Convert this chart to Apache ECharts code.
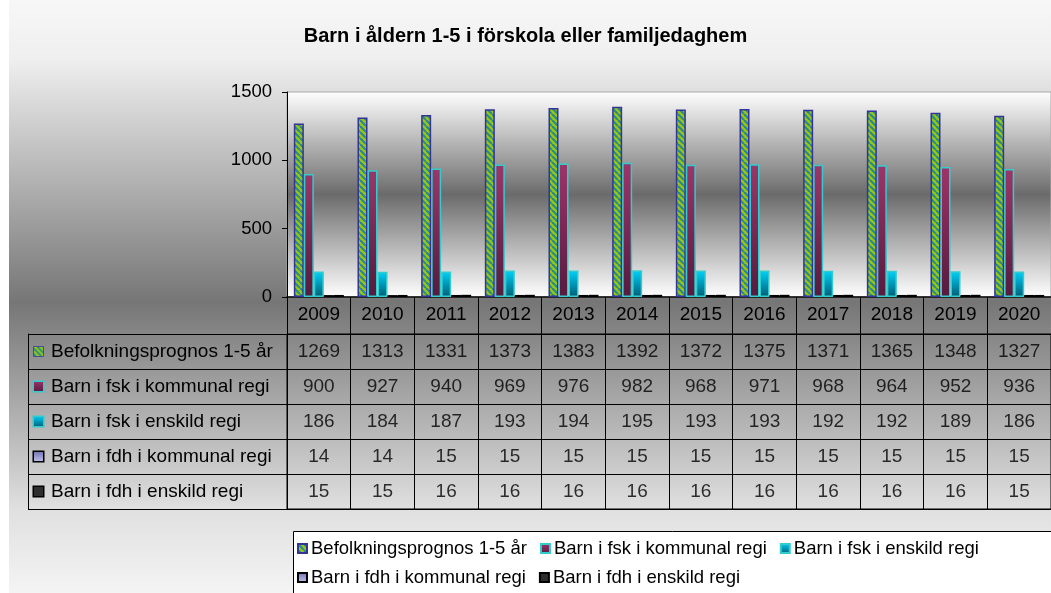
<!DOCTYPE html>
<html>
<head>
<meta charset="utf-8">
<script src="https://cdn.jsdelivr.net/npm/echarts@6/dist/echarts.min.js"></script>
<style>
  html, body { margin: 0; padding: 0; background: #fff; }
  #chart { width: 1051px; height: 593px; }
</style>
</head>
<body>
<div id="chart"></div>
<script>
// Data
var years = ['2009', '2010', '2011', '2012', '2013', '2014', '2015', '2016', '2017', '2018', '2019', '2020'];
var seriesNames = [
    'Befolkningsprognos 1-5 år',
    'Barn i fsk i kommunal regi',
    'Barn i fsk i enskild regi',
    'Barn i fdh i kommunal regi',
    'Barn i fdh i enskild regi'
];
var befolkning  = [1269, 1313, 1331, 1373, 1383, 1392, 1372, 1375, 1371, 1365, 1348, 1327];
var fskKommunal = [900, 927, 940, 969, 976, 982, 968, 971, 968, 964, 952, 936];
var fskEnskild  = [186, 184, 187, 193, 194, 195, 193, 193, 192, 192, 189, 186];
var fdhKommunal = [14, 14, 15, 15, 15, 15, 15, 15, 15, 15, 15, 15];
var fdhEnskild  = [15, 15, 16, 16, 16, 16, 16, 16, 16, 16, 16, 15];
var yMin = 0, yMax = 1500, yStep = 500;

var rows = [befolkning, fskKommunal, fskEnskild, fdhKommunal, fdhEnskild];

// Layout
var FONT = '"Liberation Sans", Arial, sans-serif';
var plotLeft = 287, plotTop = 92, plotWidth = 772, plotHeight = 205;
var yearRowH = 37;
var tableTop = plotTop + plotHeight + yearRowH, rowH = 35;
var headerWidth = 259;

// Striped fill (green / teal diagonal)
function makeStripes(size) {
    var c = document.createElement('canvas');
    c.width = size; c.height = size;
    var ctx = c.getContext('2d');
    ctx.fillStyle = '#9bc80c';
    ctx.fillRect(0, 0, size, size);
    ctx.strokeStyle = '#2b8a8c';
    ctx.lineWidth = 2.2;
    for (var o = -2 * size; o <= 2 * size; o += 6) {
        ctx.beginPath();
        ctx.moveTo(o, 0);
        ctx.lineTo(o + size, size);
        ctx.stroke();
    }
    return c;
}
function vgrad(top, bottom) {
    return new echarts.graphic.LinearGradient(0, 0, 0, 1, [
        { offset: 0, color: top },
        { offset: 1, color: bottom }
    ]);
}

var fills = [
    { image: makeStripes(6), repeat: 'repeat' },
    vgrad('#9c3568', '#561b3e'),
    vgrad('#00d2fa', '#005c74'),
    vgrad('#6d6db0', '#c4c4ee'),
    '#2e2e2e'
];
var iconFills = [
    { image: makeStripes(10) },
    fills[1], fills[2], fills[3], fills[4]
];
var borders = ['#333399', '#33cccc', '#33cccc', '#000000', '#000000'];

var chart = echarts.init(document.getElementById('chart'));

var rich = { t: { fontSize: 19, fontFamily: FONT, color: '#000', padding: [0, 0, 0, 8] } };
seriesNames.forEach(function (n, i) {
    rich['ic' + i] = {
        width: 9, height: 9,
        backgroundColor: iconFills[i],
        borderColor: borders[i],
        borderWidth: 1.5
    };
});

var tableCells = [];
rows.forEach(function (row, r) {
    row.forEach(function (v, i) {
        tableCells.push([i, r, v]);
    });
});

var series = seriesNames.map(function (name, i) {
    return {
        name: name,
        type: 'bar',
        xAxisIndex: 0,
        yAxisIndex: 0,
        data: rows[i],
        barWidth: 10,
        barGap: '0%',
        itemStyle: {
            color: fills[i],
            borderColor: borders[i],
            borderWidth: 1.5
        }
    };
});
series.push({
    type: 'scatter',
    xAxisIndex: 1,
    yAxisIndex: 1,
    symbolSize: 1,
    itemStyle: { color: 'transparent' },
    silent: true,
    label: {
        show: true,
        position: 'inside',
        fontSize: 19,
        fontFamily: FONT,
        color: '#000',
        formatter: function (p) { return p.value[2]; }
    },
    data: tableCells
});

var legendText = { fontSize: 18.5, color: '#000', fontFamily: FONT, padding: [0, 0, 0, -1] };

chart.setOption({
    animation: false,
    backgroundColor: '#ffffff',
    textStyle: { fontFamily: FONT },
    graphic: [
        {
            type: 'rect',
            z: -100,
            shape: { x: 9, y: 0, width: 1042, height: 593 },
            style: {
                fill: new echarts.graphic.LinearGradient(0, 0, 0, 1, [
                    { offset: 0, color: '#f7f7f7' },
                    { offset: 0.1, color: '#efefef' },
                    { offset: 0.51, color: '#767676' },
                    { offset: 0.86, color: '#e0e0e0' },
                    { offset: 1, color: '#f4f4f4' }
                ])
            }
        },
        {
            type: 'rect',
            z: -50,
            shape: { x: 293.5, y: 531.5, width: 800, height: 100 },
            style: { fill: '#ffffff', stroke: '#000000', lineWidth: 1 }
        }
    ],
    title: {
        text: 'Barn i åldern 1-5 i förskola eller familjedaghem',
        left: 'center',
        top: 26,
        padding: [0, 0, 0, 11],
        textStyle: { fontSize: 20, fontWeight: 'bold', color: '#000', fontFamily: FONT }
    },
    legend: [
        {
            data: [
                seriesNames[0],
                { name: seriesNames[1], textStyle: { padding: [0, 8, 0, -1] } },
                seriesNames[2]
            ],
            left: 297,
            top: 539,
            padding: 0,
            itemGap: 13,
            itemWidth: 9,
            itemHeight: 9,
            icon: 'rect',
            textStyle: legendText
        },
        {
            data: seriesNames.slice(3),
            left: 297,
            top: 568,
            padding: 0,
            itemGap: 13,
            itemWidth: 9,
            itemHeight: 9,
            icon: 'rect',
            textStyle: legendText
        }
    ],
    grid: [
        {
            left: plotLeft, top: plotTop, width: plotWidth, height: plotHeight,
            show: true,
            borderColor: '#a8a8a8',
            borderWidth: 1,
            backgroundColor: new echarts.graphic.LinearGradient(0, 0, 0, 1, [
                { offset: 0, color: '#ffffff' },
                { offset: 0.5, color: '#6b6b6b' },
                { offset: 1, color: '#ffffff' }
            ])
        },
        {
            left: plotLeft, top: tableTop, width: plotWidth, height: rowH * rows.length,
            show: true,
            borderColor: '#000',
            borderWidth: 1
        }
    ],
    xAxis: [
        {
            type: 'category',
            gridIndex: 0,
            data: years,
            axisLine: { lineStyle: { color: '#000', width: 1.5 } },
            axisTick: { show: true, interval: 0, length: yearRowH, lineStyle: { color: '#000' } },
            axisLabel: { interval: 0, fontSize: 19, color: '#000', margin: 8 },
            splitLine: { show: false }
        },
        {
            type: 'category',
            gridIndex: 1,
            data: years,
            axisLine: { show: false },
            axisTick: { show: false },
            axisLabel: { show: false },
            splitLine: { show: true, interval: 0, lineStyle: { color: '#000' } }
        }
    ],
    yAxis: [
        {
            type: 'value',
            gridIndex: 0,
            min: yMin, max: yMax, interval: yStep,
            axisLine: { show: true, lineStyle: { color: '#000' } },
            axisTick: { show: true, length: 5, lineStyle: { color: '#000' } },
            axisLabel: {
                fontSize: 18.5, color: '#000', margin: 15,
                formatter: function (v) { return String(v); }
            },
            splitLine: { show: false }
        },
        {
            type: 'category',
            gridIndex: 1,
            inverse: true,
            data: seriesNames,
            axisLine: { show: true, lineStyle: { color: '#000' } },
            axisTick: { show: true, interval: 0, length: headerWidth, lineStyle: { color: '#000' } },
            splitLine: { show: true, interval: 0, lineStyle: { color: '#000' } },
            axisLabel: {
                interval: 0,
                align: 'left',
                margin: headerWidth - 6,
                formatter: function (value, idx) {
                    return '{ic' + idx + '|}{t|' + value + '}';
                },
                rich: rich
            }
        },
        {
            type: 'category',
            gridIndex: 1,
            position: 'left',
            offset: headerWidth,
            data: seriesNames,
            axisLine: { show: true, lineStyle: { color: '#000' } },
            axisTick: { show: false },
            axisLabel: { show: false },
            splitLine: { show: false }
        }
    ],
    series: series
});
</script>
</body>
</html>
